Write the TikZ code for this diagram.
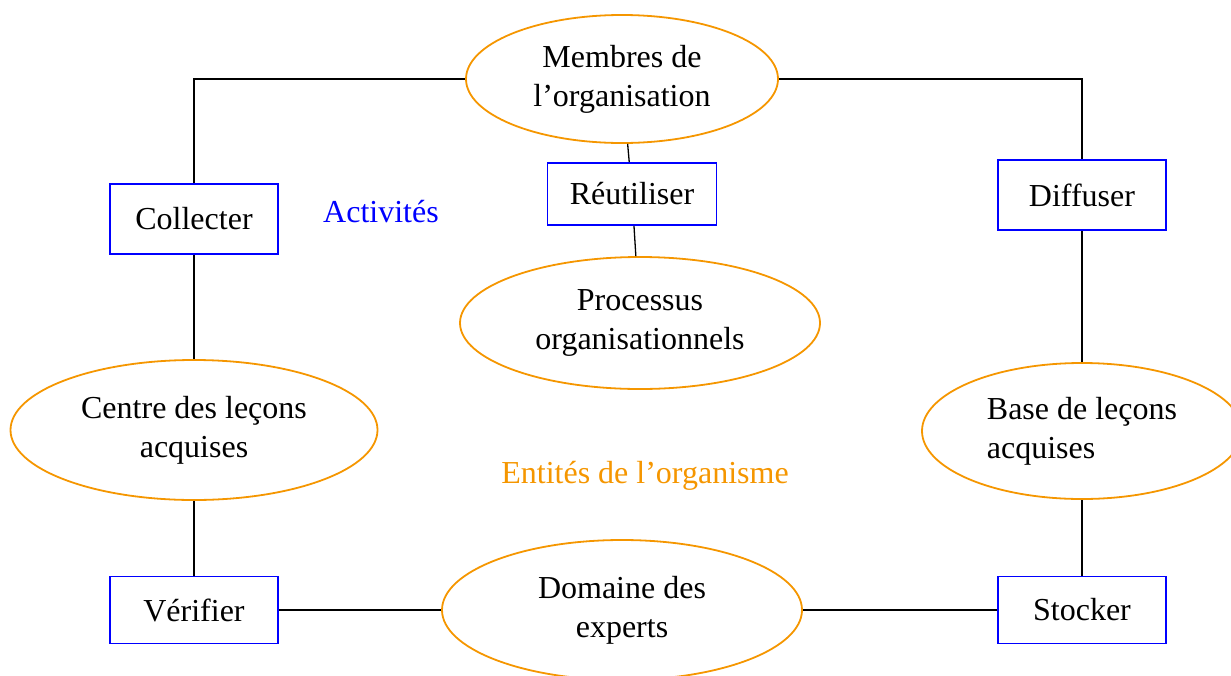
\documentclass[tikz,border=0pt]{standalone}
\usepackage{fontspec}
\setmainfont{Liberation Serif}
\usetikzlibrary{shapes.geometric}
\definecolor{entite}{RGB}{245,150,0}
\tikzset{
  activite/.style={draw=blue, line width=1.6pt, minimum width=168pt, minimum height=70pt, inner sep=0pt},
  entitebulle/.style={ellipse, draw=entite, line width=1.8pt, align=center, inner sep=0pt},
  lien/.style={line width=1.3pt}
}
\begin{document}
\begin{tikzpicture}[x=1pt, y=-1pt, font=\fontsize{32}{39}\selectfont]
% Fix the page to the reference size
\useasboundingbox (0,0) rectangle (1231,675);
\clip (0,0) rectangle (1231,675);
% The entities of the organisation
\node[entitebulle, minimum width=312pt, minimum height=128pt] (membres) at (622,79) {Membres de\\l'organisation};
\node[entitebulle, minimum width=360pt, minimum height=132pt] (processus) at (640,323) {Processus\\organisationnels};
\node[entitebulle, minimum width=367pt, minimum height=140pt] (centre) at (194,430) {Centre des leçons\\acquises};
\node[entitebulle, minimum width=320pt, minimum height=136pt, align=left] (base) at (1082,431) {Base de leçons\\acquises};
\node[entitebulle, minimum width=360pt, minimum height=140pt] (domaine) at (622,610) {Domaine des\\experts};
% The activities
\node[activite] (collecter) at (194,219) {Collecter};
\node[activite, minimum width=169pt, minimum height=62pt] (reutiliser) at (632,194) {Réutiliser};
\node[activite] (diffuser) at (1082,195) {Diffuser};
\node[activite, minimum height=67pt] (verifier) at (194,610) {Vérifier};
\node[activite, minimum height=67pt] (stocker) at (1082,610) {Stocker};
% Captions
\node[text=blue] (activites) at (381,212) {Activités};
\node[text=entite] (entites) at (645,476) {Entités de l'organisme};
% The links
\draw[lien] (membres.west) -| (collecter.north);
\draw[lien] (membres.east) -| (diffuser.north);
\draw[lien] (membres) -- (reutiliser);
\draw[lien] (reutiliser) -- (processus);
\draw[lien] (collecter) -- (centre);
\draw[lien] (centre) -- (verifier);
\draw[lien] (verifier) -- (domaine);
\draw[lien] (domaine) -- (stocker);
\draw[lien] (stocker) -- (base);
\draw[lien] (base) -- (diffuser);
\end{tikzpicture}
\end{document}
